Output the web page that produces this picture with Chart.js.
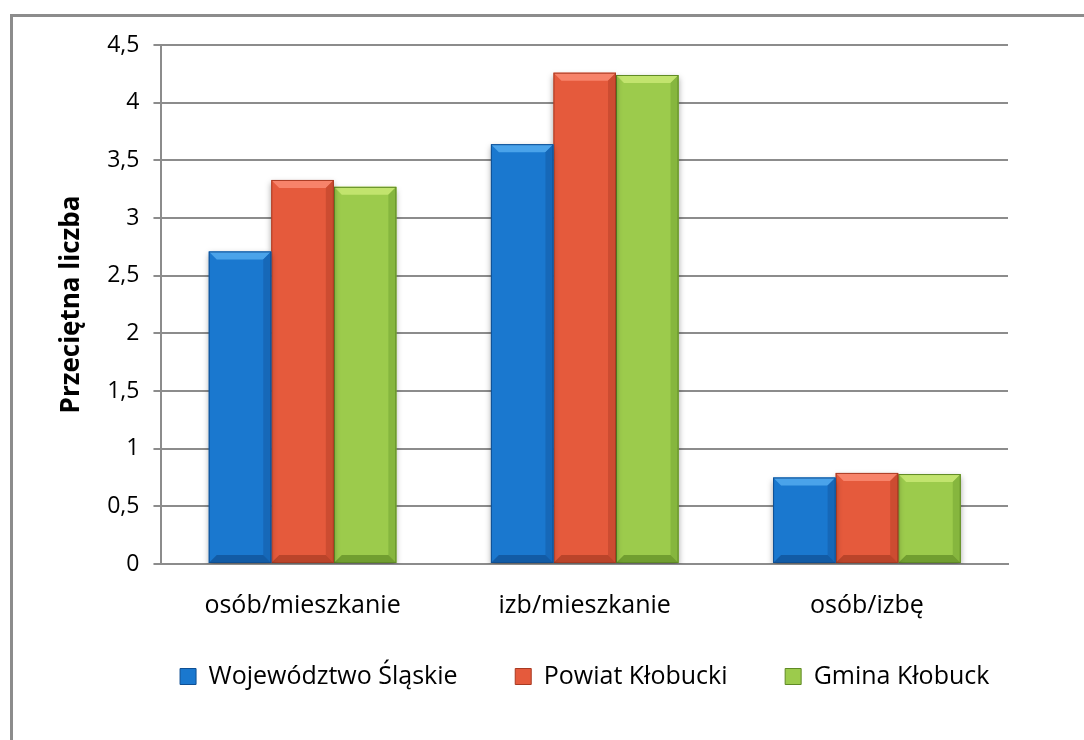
<!DOCTYPE html>
<html>
<head>
<meta charset="utf-8">
<script src="https://cdn.jsdelivr.net/npm/chart.js@4.4.1/dist/chart.umd.min.js"></script>
<style>
  body { margin: 0; background: #fff; overflow: hidden; }
  #frame {
    position: absolute; left: 10px; top: 14px; width: 1100px; height: 760px;
    border: 3px solid #8c8c8c;
  }
  #wrap { position: absolute; left: 0; top: 0; width: 1084px; height: 740px; }
</style>
</head>
<body>
<div id="frame"></div>
<div id="wrap"><canvas id="housing" width="1084" height="740"></canvas></div>
<script>
const categories = ["osób/mieszkanie", "izb/mieszkanie", "osób/izbę"];
const seriesNames = ["Województwo Śląskie", "Powiat Kłobucki", "Gmina Kłobuck"];
const wojewodztwo = [2.71, 3.64, 0.75];
const powiat = [3.33, 4.26, 0.79];
const gmina = [3.27, 4.24, 0.78];
const yTitle = "Przeciętna liczba";

const fills = ["#1a78cf", "#e55a3c", "#9ccb4c"];
const edges = ["#0f4f93", "#a83a22", "#5f8a25"];
const lights = ["#4aa3ea", "#f7836a", "#c2e46e"];
const darks = ["#1668b8", "#cc4c31", "#86b63e"];

const font = "'Open Sans', 'DejaVu Sans', sans-serif";

// draws the bevel look on top of every bar
const bevelPlugin = {
  id: "bevel",
  afterLayout(chart) {
    // center the legend under the plot area instead of the whole canvas
    chart.legend.left = chart.chartArea.left - 30;
    chart.legend.right = chart.chartArea.right + 30;
  },
  beforeDatasetDraw(chart) {
    const ctx = chart.ctx;
    ctx.save();
    ctx.shadowColor = "rgba(0,0,0,0.35)";
    ctx.shadowBlur = 6;
    ctx.shadowOffsetY = 3;
  },
  afterDatasetDraw(chart, args) {
    const ctx = chart.ctx;
    ctx.restore();
    const i = args.index;
    args.meta.data.forEach((bar) => {
      const w = bar.width;
      const left = bar.x - w / 2;
      const right = bar.x + w / 2;
      const top = bar.y;
      const bottom = bar.base;
      const b = Math.min(8, (bottom - top) / 3);
      ctx.save();
      // top
      ctx.fillStyle = lights[i];
      ctx.beginPath();
      ctx.moveTo(left, top);
      ctx.lineTo(right, top);
      ctx.lineTo(right - b, top + b);
      ctx.lineTo(left + b, top + b);
      ctx.closePath();
      ctx.fill();
      // right
      ctx.fillStyle = darks[i];
      ctx.beginPath();
      ctx.moveTo(right, top);
      ctx.lineTo(right, bottom);
      ctx.lineTo(right - b, bottom - b);
      ctx.lineTo(right - b, top + b);
      ctx.closePath();
      ctx.fill();
      // bottom
      ctx.fillStyle = edges[i];
      ctx.globalAlpha = 0.7;
      ctx.beginPath();
      ctx.moveTo(left, bottom);
      ctx.lineTo(right, bottom);
      ctx.lineTo(right - b, bottom - b);
      ctx.lineTo(left + b, bottom - b);
      ctx.closePath();
      ctx.fill();
      ctx.globalAlpha = 1;
      ctx.strokeStyle = edges[i];
      ctx.lineWidth = 1;
      ctx.strokeRect(left + 0.5, top + 0.5, w - 1, bottom - top - 1);
      ctx.restore();
    });
  },
};

const defaultLabels = Chart.defaults.plugins.legend.labels.generateLabels;

new Chart(document.getElementById("housing"), {
  type: "bar",
  data: {
    labels: categories,
    datasets: [
      { label: seriesNames[0], data: wojewodztwo },
      { label: seriesNames[1], data: powiat },
      { label: seriesNames[2], data: gmina },
    ].map((d, i) => ({
      ...d,
      backgroundColor: fills[i],
      borderColor: edges[i],
      borderWidth: 0,
      categoryPercentage: 0.665,
      barPercentage: 1,
    })),
  },
  options: {
    responsive: false,
    animation: false,
    layout: { padding: { left: 52, right: 76, top: 45, bottom: 41 } },
    plugins: {
      legend: {
        position: "bottom",
        labels: {
          font: { family: font, size: 25 },
          color: "#000",
          boxWidth: 16,
          boxHeight: 16,
          padding: 16,
          // wider gaps between items without extra vertical space
          generateLabels: (chart) =>
            defaultLabels(chart).map((l, i, all) => ({
              ...l,
              lineWidth: 1,
              strokeStyle: edges[i],
              text: i < all.length - 1 ? l.text + "\u2003\u2002\u2009" : l.text,
            })),
        },
      },
      tooltip: { enabled: false },
    },
    scales: {
      x: {
        grid: { display: false, drawTicks: false },
        border: { color: "#8c8c8c", width: 2 },
        ticks: {
          font: { family: font, size: 25 },
          color: "#000",
          padding: 27,
        },
      },
      y: {
        min: 0,
        max: 4.5,
        ticks: {
          stepSize: 0.5,
          font: { family: font, size: 23 },
          color: "#000",
          padding: 14,
          callback: (v) => String(v).replace(".", ","),
        },
        grid: { color: "#8c8c8c", lineWidth: 2, tickLength: 8 },
        border: { color: "#8c8c8c", width: 2 },
        title: {
          display: true,
          text: yTitle,
          font: { family: font, size: 26, weight: "bold" },
          color: "#000",
          padding: { bottom: 6 },
        },
      },
    },
  },
  plugins: [bevelPlugin],
});
</script>
</body>
</html>
